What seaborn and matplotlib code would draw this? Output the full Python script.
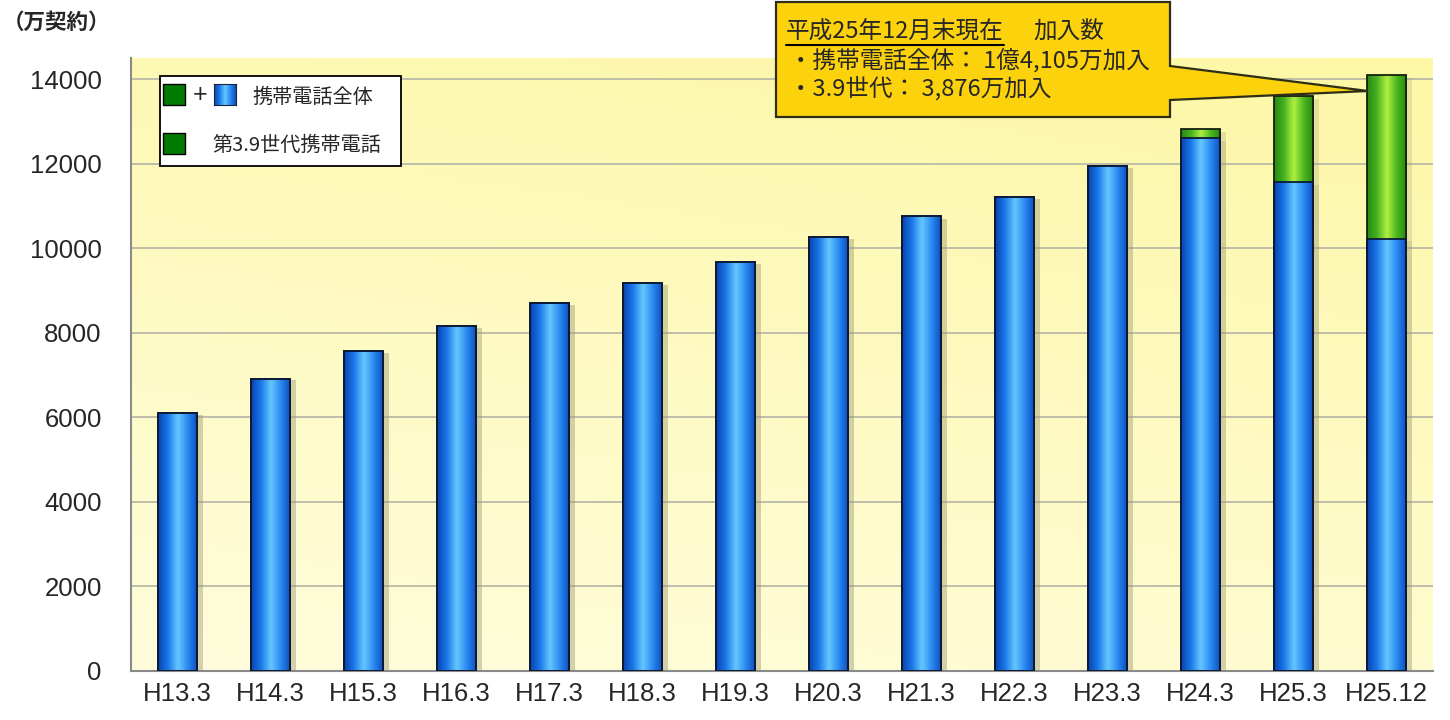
import numpy as np
import pandas as pd
import seaborn as sns
import matplotlib
matplotlib.use('Agg')
import matplotlib.pyplot as plt
from matplotlib.colors import LinearSegmentedColormap, to_rgb
from matplotlib.patches import Rectangle, Polygon
from matplotlib.lines import Line2D

# データ（万契約）
periods = ['H13.3', 'H14.3', 'H15.3', 'H16.3', 'H17.3', 'H18.3', 'H19.3',
           'H20.3', 'H21.3', 'H22.3', 'H23.3', 'H24.3', 'H25.3', 'H25.12']
other_gen = [6094, 6912, 7566, 8152, 8700, 9179, 9672,
             10272, 10755, 11218, 11954, 12600, 11560, 10229]
gen39 = [0, 0, 0, 0, 0, 0, 0, 0, 0, 0, 0, 220, 2040, 3876]
yticks = [0, 2000, 4000, 6000, 8000, 10000, 12000, 14000]

total = [a + b for a, b in zip(other_gen, gen39)]
df = pd.DataFrame({'period': periods, 'total': total, 'other': other_gen})

sns.set_style('white')
plt.rcParams['font.family'] = ['Liberation Sans', 'Noto Sans CJK JP']
JP = ['Noto Sans CJK JP', 'DejaVu Sans']

W, H = 1450, 720
fig = plt.figure(figsize=(W / 100, H / 100), dpi=100)
ax = fig.add_axes([131 / W, 49 / H, 1302 / W, 613 / H])

def fp(x, y):
    # ピクセル座標 -> figure座標
    return (x / W, 1 - y / H)

# 背景グラデーション
xs = np.linspace(0, 1, 200)
ys = np.linspace(0, 1, 120)
t = 0.75 * ys[:, None] + 0.25 * xs[None, :]
c0 = np.array(to_rgb('#fffddc'))
c1 = np.array(to_rgb('#fdf7a6'))
bg = c0[None, None, :] * (1 - t[..., None]) + c1[None, None, :] * t[..., None]
ax.imshow(bg, extent=[0, 1, 0, 1], transform=ax.transAxes, origin='lower',
          aspect='auto', zorder=0)

green = '#44b020'
blue = '#1b78e8'
sns.barplot(data=df, x='period', y='total', color=green, width=0.42, ax=ax,
            saturation=1, edgecolor='#142010', linewidth=1.3)
sns.barplot(data=df, x='period', y='other', color=blue, width=0.42, ax=ax,
            saturation=1, edgecolor='#0a1a3a', linewidth=1.3)

blue_cmap = LinearSegmentedColormap.from_list(
    'b', ['#0a44b0', '#1a78ea', '#66c8ff', '#2a8af2', '#0c4cbc'])
green_cmap = LinearSegmentedColormap.from_list(
    'g', ['#2a8a10', '#46b222', '#b0f040', '#4cb820', '#288410'])
grad = np.linspace(0, 1, 64).reshape(1, -1)

n = len(periods)
for i, p in enumerate(list(ax.patches)):
    x, y, w, h = p.get_x(), p.get_y(), p.get_width(), p.get_height()
    if h <= 0:
        continue
    cmap = green_cmap if i < n else blue_cmap
    # 影
    ax.add_patch(Rectangle((x + w, y), 0.06, h * 0.995, color='#a09a74',
                           alpha=0.25, lw=0, zorder=1.5))
    im = ax.imshow(grad, cmap=cmap, extent=[x, x + w, y, y + h],
                   aspect='auto', zorder=2, interpolation='bicubic')
    im.set_clip_path(p)
    p.set_facecolor('none')
    p.set_zorder(3)

ax.set_xlim(-0.5, n - 0.5)
ax.set_ylim(0, 14500)
ax.set_yticks(yticks)
ax.set_xlabel('')
ax.set_ylabel('')
ax.set_axisbelow(True)
ax.yaxis.grid(True, color='#b4b4a6', lw=1.2)
ax.xaxis.grid(False)
ax.set_xticks(np.arange(-0.5, n, 1), minor=True)
ax.tick_params(axis='y', length=0, pad=21, labelsize=18.5)
ax.tick_params(axis='x', which='major', length=0, pad=8, labelsize=18.5)
ax.tick_params(axis='x', which='minor', length=8, width=1.2, color='#8a8a8a')
for s in ['top', 'right']:
    ax.spines[s].set_visible(False)
for s in ['left', 'bottom']:
    ax.spines[s].set_color('#8a8a8a')
    ax.spines[s].set_linewidth(1.5)

# 単位
fig.text(3 / W, 1 - 22 / H, '（万契約）', fontsize=15.5, fontweight='bold',
         va='center', ha='left', family=JP)

# 吹き出し
pts = [(776, 2), (1170, 2), (1170, 66), (1368, 91), (1170, 100),
       (1170, 117), (776, 117)]
fig.add_artist(Polygon([fp(*q) for q in pts], closed=True,
                       transform=fig.transFigure, facecolor='#fcd20c',
                       edgecolor='#2e2e18', lw=1.6, zorder=5))
t1 = fig.text(*fp(786, 32), '平成25年12月末現在', fontsize=17, va='center',
              family=JP, zorder=6)
fig.text(*fp(1033, 32), '加入数', fontsize=17, va='center', family=JP, zorder=6)
fig.text(*fp(789, 61), '・携帯電話全体： 1億4,105万加入', fontsize=17,
         va='center', family=JP, zorder=6)
fig.text(*fp(789, 88), '・3.9世代： 3,876万加入', fontsize=17,
         va='center', family=JP, zorder=6)
r = fig.canvas.get_renderer()
bb = t1.get_window_extent(renderer=r)
fig.add_artist(Line2D([bb.x0 / W, bb.x1 / W], [(bb.y0 - 1) / H] * 2,
                      transform=fig.transFigure, color='black', lw=1.5, zorder=6))

# 凡例
fig.add_artist(Rectangle(fp(160, 166), 241 / W, 90 / H, transform=fig.transFigure,
                         facecolor='white', edgecolor='black', lw=1.3, zorder=5))
fig.add_artist(Rectangle(fp(163, 105), 22 / W, 21 / H, transform=fig.transFigure,
                         facecolor='#007a00', edgecolor='black', lw=1, zorder=6))
fig.add_artist(Rectangle(fp(163, 154), 22 / W, 21 / H, transform=fig.transFigure,
                         facecolor='#007a00', edgecolor='black', lw=1, zorder=6))
fig.text(*fp(200, 95), '+', fontsize=18, ha='center', va='center', zorder=6)
lax = fig.add_axes([214 / W, 1 - 105 / H, 22 / W, 21 / H], zorder=6)
lax.imshow(grad, cmap=blue_cmap, aspect='auto')
lax.set_xticks([])
lax.set_yticks([])
for s in lax.spines.values():
    s.set_color('#202040')
fig.text(*fp(252, 97), '携帯電話全体', fontsize=14.5, va='center', family=JP, zorder=6)
fig.text(*fp(212, 145), '第3.9世代携帯電話', fontsize=14.5, va='center', family=JP, zorder=6)

fig.savefig('out.png', dpi=100)
